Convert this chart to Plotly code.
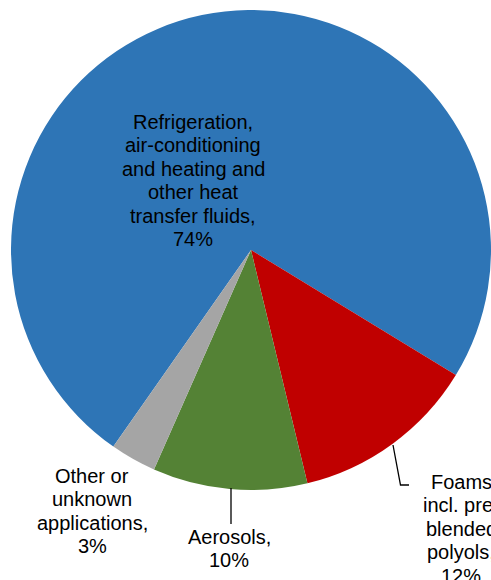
import plotly.graph_objects as go

W, H = 491, 580

# Data
labels = ["Refrigeration, air-conditioning and heating and other heat transfer fluids",
          "Foams incl. pre-blended polyols",
          "Aerosols",
          "Other or unknown applications"]
values = [74.0, 12.5, 10.4, 3.1]
colors = ["#2E75B6", "#C00000", "#548235", "#A5A5A5"]

# label text lines, per slice, with (center x px, first line y px)
label_lines = [
    ["Refrigeration,", "air-conditioning", "and heating and", "other heat", "transfer fluids,", "74%"],
    ["Foams", "incl. pre-", "blended", "polyols,", "12%"],
    ["Aerosols,", "10%"],
    ["Other or", "unknown", "applications,", "3%"],
]
label_pos = [(193, 122), (461, 482), (229, 537), (92, 476)]
line_pitch = 23.4


def px(x):
    return x / W


def py(y):
    return 1 - y / H


fig = go.Figure(go.Pie(
    labels=labels,
    values=values,
    marker=dict(colors=colors, line=dict(width=0)),
    sort=False,
    direction="clockwise",
    rotation=215,
    textinfo="none",
    hoverinfo="skip",
    showlegend=False,
    domain=dict(x=[px(11), 1], y=[py(491), py(9)]),
))

# labels, one annotation per line
for lines, (cx, cy) in zip(label_lines, label_pos):
    for i, txt in enumerate(lines):
        fig.add_annotation(
            x=px(cx), y=py(cy + i * line_pitch), xref="paper", yref="paper",
            text=txt, showarrow=False, xanchor="center", yanchor="middle",
            font=dict(size=20, color="black"),
        )

# leader lines
fig.add_shape(type="path", xref="paper", yref="paper",
              path=f"M {px(393)} {py(445)} L {px(400.5)} {py(485)} L {px(409)} {py(485)}",
              line=dict(color="black", width=1.3))
fig.add_shape(type="line", xref="paper", yref="paper",
              x0=px(231), y0=py(488), x1=px(231), y1=py(524),
              line=dict(color="black", width=1.3))

fig.update_layout(
    width=W, height=H,
    margin=dict(l=0, r=0, t=0, b=0),
    paper_bgcolor="white",
    plot_bgcolor="white",
    font=dict(family="Liberation Sans, Arial, sans-serif", color="black"),
)

# drop the default page margin so the figure sits at the window's corner
fig.write_html("out.html",
               config={"displayModeBar": False},
               post_script="document.body.style.margin='0';"
                           "document.documentElement.style.overflow='hidden';")
